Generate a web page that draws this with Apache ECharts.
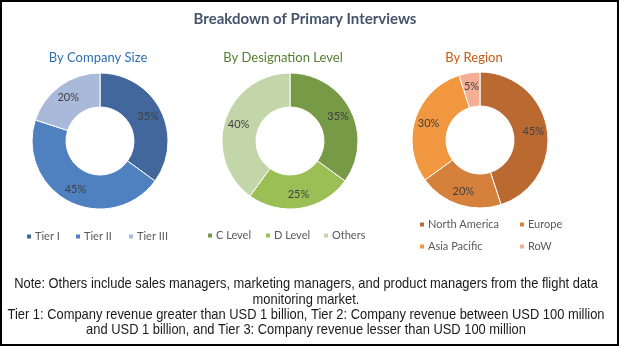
<!DOCTYPE html>
<html>
<head>
<meta charset="utf-8">
<script src="https://cdn.jsdelivr.net/npm/echarts@6/dist/echarts.min.js"></script>
<style>
  html, body { margin: 0; padding: 0; background: #ffffff; }
  #chart { width: 619px; height: 346px; }
</style>
</head>
<body>
<div id="chart"></div>
<script>
// Share of primary interviews, in percent
const companySizeNames = ['Tier I', 'Tier II', 'Tier III'];
const companySizeValues = [35, 45, 20];
const companySizeColors = ['#41679c', '#4f80c0', '#a9b9d9'];

const designationNames = ['C Level', 'D Level', 'Others'];
const designationValues = [35, 25, 40];
const designationColors = ['#779a47', '#9bbf55', '#c3d6a9'];

const regionNames = ['North America', 'Europe', 'Asia Pacific', 'RoW'];
const regionValues = [45, 20, 30, 5];
const regionColors = ['#ba6a30', '#d5813b', '#f0973f', '#f4ae96'];

const noteLines = [
  'Note: Others include sales managers, marketing managers, and product managers from the flight data',
  'monitoring market.',
  'Tier 1: Company revenue greater than USD 1 billion, Tier 2: Company revenue between USD 100 million',
  'and USD 1 billion, and Tier 3: Company revenue lesser than USD 100 million'
];

const chart = echarts.init(document.getElementById('chart'), null, { renderer: 'canvas' });

const uiFont = 'Lato, "Open Sans", sans-serif';
const noteFont = '"Liberation Sans", Arial, sans-serif';

function toData(names, values, colors) {
  return names.map((n, i) => ({ name: n, value: values[i], itemStyle: { color: colors[i] } }));
}

function donut(name, center, names, values, colors) {
  return {
    name: name,
    type: 'pie',
    center: center,
    radius: [34, 68],
    startAngle: 90,
    clockwise: true,
    avoidLabelOverlap: false,
    itemStyle: { borderColor: '#ffffff', borderWidth: 1 },
    label: {
      show: true,
      position: 'inside',
      formatter: '{c}%',
      color: '#404040',
      fontFamily: uiFont,
      fontSize: 11
    },
    labelLine: { show: false },
    emphasis: { disabled: true },
    data: toData(names, values, colors)
  };
}

function legendItem(name, left, top) {
  return {
    data: [name],
    left: left,
    top: top,
    itemWidth: 6,
    itemHeight: 6,
    itemGap: 0,
    icon: 'rect',
    selectedMode: false,
    textStyle: { color: '#595959', fontFamily: uiFont, fontSize: 11, padding: [0, 0, 0, -2] },
    padding: 0
  };
}

const legends = [
  legendItem('Tier I', 25, 231),
  legendItem('Tier II', 74, 231),
  legendItem('Tier III', 127, 231),
  legendItem('C Level', 206, 230),
  legendItem('D Level', 264, 230),
  legendItem('Others', 322, 230),
  legendItem('North America', 418, 219),
  legendItem('Europe', 518, 219),
  legendItem('Asia Pacific', 418, 241),
  legendItem('RoW', 518, 241)
];

// Footnote lines, drawn in a narrowed sans serif
const noteGraphics = noteLines.map((line, i) => ({
  type: 'text',
  x: 306,
  y: 284 + i * 15.4,
  scaleX: 0.86,
  silent: true,
  style: {
    text: line,
    fill: '#1a1a1a',
    font: '15px ' + noteFont,
    textAlign: 'center',
    textVerticalAlign: 'middle'
  }
}));

chart.setOption({
  backgroundColor: '#ffffff',
  animation: false,
  title: [
    {
      text: 'Breakdown of Primary Interviews',
      left: 300,
      top: 7,
      textAlign: 'center',
      textStyle: { color: '#44546a', fontFamily: uiFont, fontWeight: 'bold', fontSize: 15 }
    },
    {
      text: 'By Company Size',
      left: 93, top: 46, textAlign: 'center',
      textStyle: { color: '#2e6fb0', fontFamily: uiFont, fontWeight: 'normal', fontSize: 13 }
    },
    {
      text: 'By Designation Level',
      left: 278, top: 46, textAlign: 'center',
      textStyle: { color: '#558032', fontFamily: uiFont, fontWeight: 'normal', fontSize: 13 }
    },
    {
      text: 'By Region',
      left: 469, top: 46, textAlign: 'center',
      textStyle: { color: '#c45a14', fontFamily: uiFont, fontWeight: 'normal', fontSize: 13 }
    }
  ],
  legend: legends,
  series: [
    donut('By Company Size', [100, 141], companySizeNames, companySizeValues, companySizeColors),
    donut('By Designation Level', [290, 141], designationNames, designationValues, designationColors),
    donut('By Region', [480, 140], regionNames, regionValues, regionColors)
  ],
  graphic: [
    {
      type: 'rect',
      shape: { x: 1, y: 1, width: 617, height: 344 },
      style: { fill: 'none', stroke: '#000000', lineWidth: 2 },
      silent: true
    }
  ].concat(noteGraphics)
});
</script>
</body>
</html>
